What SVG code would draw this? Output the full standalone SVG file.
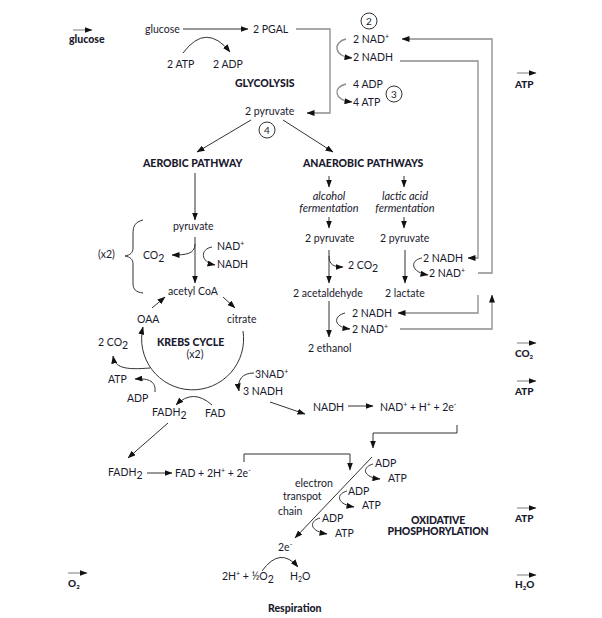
<svg xmlns="http://www.w3.org/2000/svg" width="602" height="618" viewBox="0 0 602 618">
<defs>
<marker id="ah" viewBox="0 0 8 6" refX="7.5" refY="3" markerWidth="8" markerHeight="6" markerUnits="userSpaceOnUse" orient="auto"><path d="M0,0 L8,3 L0,6 z" fill="#111"/></marker>
<style>
text{font-family:Lato,"Open Sans","Liberation Sans",sans-serif;font-size:10.5px;fill:#1a1a2e}
.b{font-weight:900}
.i{font-style:italic;font-size:11px}
.m{text-anchor:middle}
.sm{font-size:10px}
.c{fill:none;stroke:#333;stroke-width:1}
.g{fill:none;stroke:#8c8c8c;stroke-width:1.3}
.s{fill:none;stroke:#999;stroke-width:1.3}
.circ{fill:#fff;stroke:#333;stroke-width:1}
</style>
</defs>
<rect width="602" height="618" fill="#fff"/>

<g id="connectors">
<path class="c" d="M183,29 H248" marker-end="url(#ah)"/>
<path class="c" d="M183,53 Q206,22 230,52" marker-end="url(#ah)"/>
<path class="g" d="M296,29 H330 V113 H307" marker-end="url(#ah)"/>
<path class="g" d="M346,39 C333,42 333,56 352,58" marker-end="url(#ah)"/>
<path class="g" d="M478,273 H492 V39 H402" marker-end="url(#ah)"/>
<path class="g" d="M400,61 H478 V258 H468" marker-end="url(#ah)"/>
<path class="g" d="M346,84 C333,87 333,100 352,102" marker-end="url(#ah)"/>
<path class="c" d="M251,120 L197,152" marker-end="url(#ah)"/>
<path class="c" d="M283,120 L333,152" marker-end="url(#ah)"/>
<path class="c" d="M195,173 V220" marker-end="url(#ah)"/>
<path class="c" d="M195,237 V283" marker-end="url(#ah)"/>
<path class="c" d="M195,244 C195,254 186,255 172,255" marker-end="url(#ah)"/>
<path class="c" d="M212,247 C200,249 200,262 215,265" marker-end="url(#ah)"/>
<path class="c" d="M329,176 V187" marker-end="url(#ah)"/>
<path class="c" d="M404,176 V187" marker-end="url(#ah)"/>
<path class="c" d="M329,217 V228" marker-end="url(#ah)"/>
<path class="c" d="M404,217 V228" marker-end="url(#ah)"/>
<path class="c" d="M329,250 V283" marker-end="url(#ah)"/>
<path class="c" d="M329,256 C329,265 334,267 343,267" marker-end="url(#ah)"/>
<path class="c" d="M405,250 V283" marker-end="url(#ah)"/>
<path class="c" d="M422,258 C410,260 410,272 428,275" marker-end="url(#ah)"/>
<path class="g" d="M478,295 V313 H398" marker-end="url(#ah)"/>
<path class="g" d="M400,329 H492 V295" marker-end="url(#ah)"/>
<path class="c" d="M345,313 C333,316 333,327 350,329" marker-end="url(#ah)"/>
<path class="c" d="M329,301 V337" marker-end="url(#ah)"/>
<path class="c" d="M152,308 L165,297" marker-end="url(#ah)"/>
<path class="c" d="M223,297 L235,308" marker-end="url(#ah)"/>
<path class="c" d="M243,331 A51,51 0 1 1 143,327" marker-end="url(#ah)"/>
<path class="c" d="M150,368 C125,370 115,368 113,356" marker-end="url(#ah)"/>
<path class="c" d="M155,392 C156,382 150,378 135,379" marker-end="url(#ah)"/>
<path class="c" d="M212,405 Q193,388 176,405" marker-end="url(#ah)"/>
<path class="c" d="M254,373 C242,373 237,380 239,391" marker-end="url(#ah)"/>
<path class="c" d="M270,402 L305,414" marker-end="url(#ah)"/>
<path class="c" d="M348,406 H373" marker-end="url(#ah)"/>
<path class="c" d="M457,425 V433 H373 V448" marker-end="url(#ah)"/>
<path class="c" d="M168,423 L128,458" marker-end="url(#ah)"/>
<path class="c" d="M147,473 H172" marker-end="url(#ah)"/>
<path class="c" d="M244,462 V454 H350 V470" marker-end="url(#ah)"/>
<path class="c" d="M372,457 L295,538" marker-end="url(#ah)"/>
<path class="c" d="M373,464 C362,467 362,477 380,479" marker-end="url(#ah)"/>
<path class="c" d="M347,491 C336,494 336,504 354,507" marker-end="url(#ah)"/>
<path class="c" d="M320,518 C309,521 309,531 327,534" marker-end="url(#ah)"/>
<path class="c" d="M262,571 Q280,546 298,567" marker-end="url(#ah)"/>
<path class="c" d="M143,220 C135,222 133,226 133,234 V248 C133,253 130,255 125,256 C130,257 133,259 133,264 V283 C133,290 136,292 143,293"/>
<path class="s" d="M73,30 H92" marker-end="url(#ah)"/>
<path class="s" d="M517,73 H536" marker-end="url(#ah)"/>
<path class="s" d="M517,343 H536" marker-end="url(#ah)"/>
<path class="s" d="M517,381 H536" marker-end="url(#ah)"/>
<path class="s" d="M517,508 H536" marker-end="url(#ah)"/>
<path class="s" d="M68,573 H87" marker-end="url(#ah)"/>
<path class="s" d="M517,575 H536" marker-end="url(#ah)"/>
</g>

<g id="n-glucose-in"><text class="b" font-size="11.5" x="69" y="43">glucose</text></g>
<g id="n-glucose"><text x="145" y="33">glucose</text></g>
<g id="n-pgal"><text x="253" y="33">2 PGAL</text></g>
<g id="n-2atp"><text x="167" y="68">2 ATP</text></g>
<g id="n-2adp"><text x="213" y="68">2 ADP</text></g>
<g id="n-glycolysis"><text class="b" x="235" y="87">GLYCOLYSIS</text></g>
<g id="n-c2"><circle class="circ" cx="369" cy="21" r="8"/><text class="m sm" x="369" y="25">2</text></g>
<g id="n-2nad-top"><text x="353" y="43">2 NAD<tspan font-size="7" dy="-4">+</tspan></text></g>
<g id="n-2nadh-top"><text x="353" y="61">2 NADH</text></g>
<g id="n-4adp"><text x="353" y="88">4 ADP</text></g>
<g id="n-4atp"><text x="353" y="106">4 ATP</text></g>
<g id="n-c3"><circle class="circ" cx="394" cy="94" r="8"/><text class="m sm" x="394" y="98">3</text></g>
<g id="n-atp-out1"><text class="b sm" x="515" y="88">ATP</text></g>
<g id="n-2pyruvate"><text x="245" y="115">2 pyruvate</text></g>
<g id="n-c4"><circle class="circ" cx="267" cy="130" r="8"/><text class="m sm" x="267" y="134">4</text></g>
<g id="n-aerobic"><text class="b" x="143" y="167">AEROBIC PATHWAY</text></g>
<g id="n-anaerobic"><text class="b" x="303" y="167">ANAEROBIC PATHWAYS</text></g>
<g id="n-alcohol"><text class="i m" x="329" y="200">alcohol</text><text class="i m" x="329" y="212">fermentation</text></g>
<g id="n-lactic"><text class="i m" x="405" y="200">lactic acid</text><text class="i m" x="405" y="212">fermentation</text></g>
<g id="n-pyruvate"><text x="173" y="230">pyruvate</text></g>
<g id="n-2pyr-a"><text x="305" y="242">2 pyruvate</text></g>
<g id="n-2pyr-l"><text x="380" y="242">2 pyruvate</text></g>
<g id="n-x2"><text x="98" y="258">(x2)</text></g>
<g id="n-co2"><text x="143" y="259">CO<tspan dy="3">2</tspan></text></g>
<g id="n-nad-a"><text x="217" y="250">NAD<tspan font-size="7" dy="-4">+</tspan></text></g>
<g id="n-nadh-a"><text x="217" y="268">NADH</text></g>
<g id="n-2co2-a"><text x="348" y="269">2 CO<tspan dy="3">2</tspan></text></g>
<g id="n-2nadh-l"><text x="423" y="262">2 NADH</text></g>
<g id="n-2nad-l"><text x="429" y="277">2 NAD<tspan font-size="7" dy="-4">+</tspan></text></g>
<g id="n-acetylcoa"><text x="168" y="295">acetyl CoA</text></g>
<g id="n-acetaldehyde"><text x="293" y="297">2 acetaldehyde</text></g>
<g id="n-lactate"><text x="385" y="297">2 lactate</text></g>
<g id="n-2nadh-e"><text x="352" y="317">2 NADH</text></g>
<g id="n-2nad-e"><text x="352" y="333">2 NAD<tspan font-size="7" dy="-4">+</tspan></text></g>
<g id="n-oaa"><text x="137" y="323">OAA</text></g>
<g id="n-citrate"><text x="227" y="323">citrate</text></g>
<g id="n-krebs"><text class="b" x="157" y="346">KREBS CYCLE</text><text class="m" x="195" y="358">(x2)</text></g>
<g id="n-2co2-k"><text x="98" y="346">2 CO<tspan dy="3">2</tspan></text></g>
<g id="n-ethanol"><text x="308" y="352">2 ethanol</text></g>
<g id="n-co2-out"><text class="b sm" x="515" y="357">CO<tspan font-size="6" dy="2">2</tspan></text></g>
<g id="n-3nad"><text x="255" y="378">3NAD<tspan font-size="7" dy="-4">+</tspan></text></g>
<g id="n-atp-k"><text x="108" y="383">ATP</text></g>
<g id="n-3nadh"><text x="243" y="395">3 NADH</text></g>
<g id="n-atp-out2"><text class="b sm" x="515" y="395">ATP</text></g>
<g id="n-adp-k"><text x="127" y="402">ADP</text></g>
<g id="n-nadh"><text x="313" y="411">NADH</text></g>
<g id="n-nadsplit"><text x="380" y="411">NAD<tspan font-size="7" dy="-4">+</tspan><tspan dy="4">  + H</tspan><tspan font-size="7" dy="-4">+</tspan><tspan dy="4">  + 2e</tspan><tspan font-size="7" dy="-4">-</tspan></text></g>
<g id="n-fadh2-k"><text x="152" y="416">FADH<tspan dy="3">2</tspan></text></g>
<g id="n-fad-k"><text x="205" y="417">FAD</text></g>
<g id="n-fadh2"><text x="108" y="476">FADH<tspan dy="3">2</tspan></text></g>
<g id="n-fadsplit"><text x="175" y="477">FAD + 2H<tspan font-size="7" dy="-4">+</tspan><tspan dy="4"> + 2e</tspan><tspan font-size="7" dy="-4">-</tspan></text></g>
<g id="n-etc"><text x="295" y="487">electron</text><text x="283" y="500">transpot</text><text x="278" y="515">chain</text></g>
<g id="n-adp1"><text x="375" y="467">ADP</text></g>
<g id="n-atp1"><text x="388" y="482">ATP</text></g>
<g id="n-adp2"><text x="348" y="495">ADP</text></g>
<g id="n-atp2"><text x="362" y="509">ATP</text></g>
<g id="n-adp3"><text x="322" y="522">ADP</text></g>
<g id="n-atp3"><text x="335" y="537">ATP</text></g>
<g id="n-oxphos"><text class="b m" font-size="9.5" x="438" y="524" letter-spacing="-0.2">OXIDATIVE</text><text class="b m" font-size="9.5" x="438" y="535" letter-spacing="-0.2">PHOSPHORYLATION</text></g>
<g id="n-atp-out3"><text class="b sm" x="515" y="522">ATP</text></g>
<g id="n-2e"><text x="278" y="551">2e<tspan font-size="7" dy="-4">-</tspan></text></g>
<g id="n-o2react"><text x="222" y="580">2H<tspan font-size="7" dy="-4">+</tspan><tspan dy="4"> + ½O</tspan><tspan dy="3">2</tspan></text></g>
<g id="n-h2o"><text x="290" y="580">H<tspan font-size="7" dy="2">2</tspan><tspan dy="-2">O</tspan></text></g>
<g id="n-o2-in"><text class="b sm" x="68" y="587">O<tspan font-size="6" dy="2">2</tspan></text></g>
<g id="n-h2o-out"><text class="b sm" x="515" y="588">H<tspan font-size="6" dy="2">2</tspan><tspan dy="-2">O</tspan></text></g>
<g id="n-title"><text class="b" x="268" y="612">Respiration</text></g>
</svg>
